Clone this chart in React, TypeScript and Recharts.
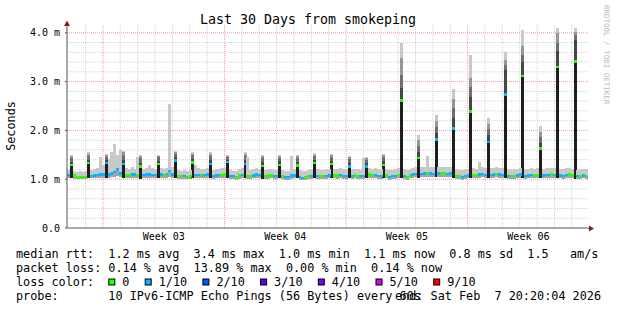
import React from 'react';
import { ComposedChart, Bar, Cell, XAxis, YAxis, CartesianGrid } from 'recharts';

// ---- time bins (4h each, 180 bins over 30 days) ----
const BASE_LO = [
  1.02,1.02,1.01,1.00,1.00,1.00,1.01,1.02,1.02,1.02,
  1.03,1.03,1.02,1.02,1.03,1.04,1.05,1.06,1.04,1.03,
  1.02,1.03,1.03,1.03,1.02,1.01,1.02,1.03,1.03,1.02,
  1.02,1.02,1.03,1.02,1.03,1.04,1.03,1.02,1.00,1.00,
  1.01,1.00,1.01,1.02,1.02,1.02,1.02,1.02,1.03,1.02,
  1.01,1.02,1.02,1.02,1.03,1.02,1.00,1.00,0.99,1.01,
  1.02,1.02,1.01,1.01,1.02,1.03,1.02,1.01,1.00,1.01,
  1.02,1.01,1.00,1.02,1.00,0.99,0.99,1.01,1.02,1.02,
  0.99,0.98,0.99,1.00,1.01,1.02,1.01,1.00,1.00,1.01,
  1.02,1.02,1.02,1.01,1.02,1.01,1.00,1.02,1.01,1.02,
  1.01,1.00,1.00,1.02,1.03,1.02,1.02,1.01,1.01,1.02,
  1.02,0.99,1.00,1.01,1.02,1.03,1.01,0.99,1.02,1.03,
  1.04,1.03,1.04,1.05,1.05,1.05,1.04,1.05,1.05,1.05,
  1.05,1.04,1.05,1.03,1.01,1.00,0.99,1.01,1.02,1.03,
  1.02,1.02,1.03,1.04,1.02,1.02,1.02,1.03,1.04,1.03,
  1.02,1.02,1.01,1.00,1.01,1.02,1.03,1.02,1.01,1.02,
  1.02,1.02,1.02,1.03,1.02,1.02,1.02,1.03,1.02,1.02,
  1.02,1.01,1.02,1.03,1.02,1.01,1.00,1.01,1.02,1.01,
];
const BASE_MED = [
  1.09,1.08,1.08,1.05,1.05,1.04,1.05,1.08,1.07,1.08,
  1.09,1.10,1.10,1.08,1.10,1.12,1.15,1.20,1.12,1.10,
  1.08,1.09,1.10,1.10,1.08,1.07,1.09,1.10,1.10,1.09,
  1.09,1.09,1.10,1.08,1.11,1.17,1.10,1.09,1.06,1.06,
  1.07,1.05,1.07,1.09,1.09,1.09,1.08,1.09,1.10,1.09,
  1.07,1.08,1.09,1.09,1.10,1.08,1.06,1.06,1.05,1.08,
  1.09,1.08,1.07,1.07,1.08,1.10,1.09,1.07,1.06,1.08,
  1.08,1.07,1.06,1.09,1.06,1.04,1.05,1.08,1.08,1.09,
  1.05,1.03,1.04,1.06,1.07,1.08,1.07,1.06,1.06,1.07,
  1.08,1.09,1.08,1.08,1.09,1.07,1.06,1.09,1.07,1.08,
  1.07,1.06,1.06,1.09,1.10,1.08,1.09,1.07,1.07,1.09,
  1.08,1.05,1.06,1.07,1.09,1.10,1.07,1.05,1.08,1.10,
  1.11,1.10,1.11,1.12,1.13,1.12,1.11,1.12,1.12,1.13,
  1.12,1.11,1.12,1.10,1.07,1.06,1.05,1.07,1.08,1.10,
  1.09,1.08,1.10,1.11,1.09,1.08,1.09,1.10,1.11,1.10,
  1.09,1.08,1.07,1.06,1.07,1.08,1.10,1.09,1.07,1.08,
  1.09,1.08,1.09,1.10,1.08,1.09,1.09,1.10,1.09,1.08,
  1.08,1.07,1.09,1.10,1.08,1.07,1.06,1.07,1.08,1.07,
];
const BASE_HI = [
  1.18,1.20,1.17,1.15,1.16,1.15,1.17,1.19,1.18,1.20,
  1.22,1.45,1.30,1.20,1.42,1.55,1.72,1.50,1.60,1.30,
  1.22,1.20,1.25,1.21,1.45,1.22,1.20,1.22,1.30,1.22,
  1.20,1.21,1.22,1.20,1.22,2.55,1.25,1.22,1.18,1.17,
  1.18,1.17,1.19,1.22,1.30,1.22,1.20,1.21,1.22,1.20,
  1.18,1.20,1.21,1.22,1.23,1.20,1.18,1.17,1.16,1.20,
  1.22,1.21,1.45,1.19,1.20,1.22,1.21,1.19,1.18,1.20,
  1.21,1.19,1.18,1.21,1.18,1.17,1.17,1.47,1.20,1.21,
  1.18,1.16,1.17,1.19,1.20,1.21,1.20,1.19,1.19,1.20,
  1.21,1.22,1.21,1.21,1.22,1.20,1.19,1.47,1.20,1.21,
  1.20,1.19,1.43,1.22,1.23,1.21,1.22,1.20,1.20,1.45,
  1.21,1.18,1.19,1.20,1.22,1.23,1.20,1.18,1.21,1.23,
  1.24,1.23,1.25,1.26,1.48,1.25,1.24,1.25,1.25,1.26,
  1.25,1.24,1.25,1.23,1.20,1.19,1.18,1.20,1.21,1.23,
  1.22,1.21,1.36,1.24,1.22,1.21,1.22,1.23,1.24,1.23,
  1.22,1.21,1.20,1.19,1.20,1.21,1.23,1.22,1.20,1.21,
  1.22,1.21,1.22,1.23,1.21,1.22,1.22,1.23,1.22,1.21,
  1.21,1.20,1.22,1.23,1.21,1.20,1.19,1.20,1.21,1.20,
];
// loss bucket index per bin: 0 = 0 lost, 1 = 1/10 lost
const BASE_LOSS = [
  1,1,0,0,0,0,0,1,1,1, 1,1,1,0,1,1,1,1,1,1, 0,0,1,1,0,0,1,1,1,1,
  1,1,1,0,1,1,1,1,0,0, 1,0,0,1,1,1,0,1,1,1, 1,1,1,0,0,1,1,1,0,0,
  1,1,0,0,1,1,1,1,0,0, 0,1,1,0,0,1,1,1,1,0, 1,1,0,0,1,1,1,0,0,1,
  1,1,0,0,1,1,1,1,1,0, 0,1,1,1,0,0,1,1,1,0, 0,1,1,1,0,1,1,0,0,1,
  1,1,1,1,0,1,1,1,1,0, 0,1,1,0,0,0,1,1,1,1, 0,0,1,1,1,0,1,1,0,1,
  1,1,1,0,0,1,1,0,1,1, 1,0,0,1,1,1,1,0,1,1, 1,1,1,0,0,1,1,0,1,0,
];

// ---- daily latency spikes ----
const SPIKE_BIN  = [1,7,13,19,25,31,37,43,49,55,61,67,73,79,85,91,97,103,109,115,121,127,133,139,145,151,157,163,169,175];
const SPIKE_MED  = [1.29,1.33,1.33,1.31,1.26,1.31,1.38,1.34,1.31,1.35,1.31,1.27,1.29,1.28,1.33,1.31,1.26,1.26,1.29,2.61,1.43,1.81,2.04,2.39,1.76,2.74,3.12,1.63,3.30,3.41];
const SPIKE_LOSS = [0,0,1,1,0,0,1,0,1,1,1,0,0,0,0,0,1,1,0,0,0,1,1,0,1,1,0,0,0,0];
const SPIKE_L1   = [1.36,1.40,1.40,1.40,1.34,1.38,1.45,1.42,1.40,1.40,1.40,1.36,1.37,1.36,1.40,1.38,1.34,1.33,1.37,2.87,1.55,1.95,2.25,2.69,1.90,3.24,3.40,1.75,3.62,3.86];
const SPIKE_L2   = [1.44,1.48,1.46,1.50,1.43,1.45,1.52,1.49,1.48,1.45,1.48,1.44,1.44,1.44,1.47,1.46,1.42,1.40,1.45,3.14,1.68,2.08,2.45,2.88,2.02,3.35,3.55,1.86,3.80,3.95];
const SPIKE_L3   = [1.47,1.52,1.49,1.55,1.47,1.48,1.55,1.52,1.52,1.47,1.52,1.47,1.47,1.47,1.50,1.49,1.45,1.43,1.49,3.48,1.80,2.20,2.65,3.07,2.14,3.45,3.72,1.97,4.00,4.02];
const SPIKE_TOP  = [1.50,1.55,1.51,1.58,1.50,1.50,1.57,1.55,1.55,1.49,1.55,1.50,1.50,1.50,1.53,1.52,1.48,1.46,1.52,3.79,1.91,2.32,2.85,3.55,2.25,3.60,4.06,2.09,4.10,4.10];

// ---- axes / grid ----
const Y_TICKS = [0, 1, 2, 3, 4];
const Y_MINOR = [0.2,0.4,0.6,0.8,1.2,1.4,1.6,1.8,2.2,2.4,2.6,2.8,3.2,3.4,3.6,3.8];
const Y_MAJOR = [1, 2, 3, 4];
const X_MINOR = [1.07,3.07,4.07,5.07,6.07,7.07,8.07,10.07,11.07,12.07,13.07,14.07,15.07,17.07,18.07,19.07,20.07,21.07,22.07,24.07,25.07,26.07,27.07,28.07,29.07];
const X_MAJOR = [2.07, 9.07, 16.07, 23.07];
const WEEK_TICKS = [5.57, 12.57, 19.57, 26.57];
const WEEK_LABELS = ['Week 03', 'Week 04', 'Week 05', 'Week 06'];

// ---- legend ----
const RTT_STATS = ['1.2 ms avg', '3.4 ms max', '1.0 ms min', '1.1 ms now', '0.8 ms sd', '1.5   am/s'];
const LOSS_STATS = ['0.14 % avg', '13.89 % max', '0.00 % min', '0.14 % now'];
const LOSS_LABELS = ['0', '1/10', '2/10', '3/10', '4/10', '5/10', '9/10'];
const LOSS_COLORS = ['#26ff00', '#00b8ff', '#0059ff', '#5e00ff', '#7e00ff', '#dd00ff', '#ff0000'];
const PROBE = '10 IPv6-ICMP Echo Pings (56 Bytes) every 60s';
const END_TEXT = 'end: Sat Feb  7 20:20:04 2026';
const TITLE = 'Last 30 Days from smokeping';

const MONO = '"DejaVu Sans Mono", monospace';
const HALF = 0.025;

const rows = BASE_MED.map((m, i) => {
  const k = SPIKE_BIN.indexOf(i);
  const spike = k >= 0;
  const lo = BASE_LO[i];
  const med = spike ? SPIKE_MED[k] : m;
  const loss = spike ? SPIKE_LOSS[k] : BASE_LOSS[i];
  const mTop = med + HALF;
  const l1 = spike ? SPIKE_L1[k] : mTop;
  const l2 = spike ? SPIKE_L2[k] : mTop;
  const l3 = spike ? SPIKE_L3[k] : mTop;
  const top = spike ? SPIKE_TOP[k] : Math.max(BASE_HI[i], mTop);
  return {
    t: (i + 0.5) / 6,
    base: lo,
    lower: Math.max(0, med - HALF - lo),
    mark: 2 * HALF,
    u1: l1 - mTop,
    u2: l2 - l1,
    u3: l3 - l2,
    u4: top - l3,
    spike,
    loss,
  };
});

function Legend() {
  const cw = 7.1;
  const x0 = 16;
  const items: { bx: number; tx: number; label: string; color: string }[] = [];
  let x = x0 + 13 * cw;
  LOSS_LABELS.forEach((label, i) => {
    const bx = x;
    const tx = bx + 14;
    items.push({ bx, tx, label, color: LOSS_COLORS[i] });
    x = tx + label.length * cw + 15.3;
  });
  const ts = { fontFamily: MONO, fontSize: 11.8, fill: '#000', whiteSpace: 'pre' as const };
  return (
    <g>
      <text x={x0} y={258} style={ts}>{'median rtt:  ' + RTT_STATS.join('  ')}</text>
      <text x={x0} y={272} style={ts}>{'packet loss: ' + LOSS_STATS.join('  ')}</text>
      <text x={x0} y={286} style={ts}>{'loss color:'}</text>
      {items.map((it) => (
        <g key={it.label}>
          <rect x={it.bx + 0.5} y={279} width={6} height={6} fill={it.color} stroke="#000" strokeWidth={1} />
          <text x={it.tx} y={286} style={ts}>{it.label}</text>
        </g>
      ))}
      <text x={x0} y={300} style={ts}>{'probe:       ' + PROBE}</text>
      <text x={601} y={300} textAnchor="end" style={ts}>{END_TEXT}</text>
    </g>
  );
}

export default function App() {
  return (
    <div style={{ position: 'absolute', left: 0, top: 0, width: 617, height: 310, background: '#fff' }}>
      <style>{`.recharts-bar-rectangle path { shape-rendering: crispEdges; }`}</style>
      <ComposedChart
        width={617}
        height={310}
        data={rows}
        margin={{ top: 25, right: 29, bottom: 62, left: 0 }}
        barCategoryGap={0}
        barGap={0}
      >
        <CartesianGrid stroke="#d2d2d2" strokeDasharray="1 1" horizontalValues={Y_MINOR} verticalValues={X_MINOR} />
        <CartesianGrid stroke="#ee9f9f" strokeDasharray="1 1" horizontalValues={Y_MAJOR} verticalValues={X_MAJOR} />
        <XAxis
          dataKey="t"
          type="number"
          domain={[0, 30]}
          allowDataOverflow
          ticks={WEEK_TICKS}
          interval={0}
          tickFormatter={(v: number, idx: number) => WEEK_LABELS[idx]}
          tick={{ fontFamily: MONO, fontSize: 10, fill: '#000' }}
          tickLine={false}
          tickSize={0}
          tickMargin={5}
          axisLine={{ stroke: '#555' }}
          height={20}
        />
        <YAxis
          type="number"
          domain={[0, 4.16]}
          allowDataOverflow
          ticks={Y_TICKS}
          interval={0}
          tickFormatter={(v: number) => (v === 0 ? '0.0' : v.toFixed(1) + ' m')}
          tick={{ fontFamily: MONO, fontSize: 10, fill: '#000' }}
          tickLine={{ stroke: '#555' }}
          tickSize={2}
          tickMargin={5}
          axisLine={{ stroke: '#555' }}
          width={67}
        />
        <Bar dataKey="base" stackId="s" fill="transparent" isAnimationActive={false} />
        <Bar dataKey="lower" stackId="s" isAnimationActive={false}>
          {rows.map((r, i) => (
            <Cell key={i} fill={r.spike ? '#1e1e1e' : '#a4a4a4'} />
          ))}
        </Bar>
        <Bar dataKey="mark" stackId="s" isAnimationActive={false}>
          {rows.map((r, i) => (
            <Cell key={i} fill={LOSS_COLORS[r.loss]} />
          ))}
        </Bar>
        <Bar dataKey="u1" stackId="s" fill="#464646" isAnimationActive={false} />
        <Bar dataKey="u2" stackId="s" fill="#6e6e6e" isAnimationActive={false} />
        <Bar dataKey="u3" stackId="s" fill="#969696" isAnimationActive={false} />
        <Bar dataKey="u4" stackId="s" fill="#c8c8c8" isAnimationActive={false} />
      </ComposedChart>
      <svg width={617} height={310} style={{ position: 'absolute', left: 0, top: 0, pointerEvents: 'none' }}>
        <text x={308} y={24} textAnchor="middle" style={{ fontFamily: MONO, fontSize: 13.3, fill: '#000' }}>{TITLE}</text>
        <text
          x={15}
          y={126}
          textAnchor="middle"
          transform="rotate(-90 15 126)"
          style={{ fontFamily: MONO, fontSize: 11.8, fill: '#000' }}
        >
          Seconds
        </text>
        <text
          x={603.5}
          y={5}
          transform="rotate(90 603.5 5)"
          style={{ fontFamily: MONO, fontSize: 7.5, fill: '#bdbdbd' }}
        >
          RRDTOOL / TOBI OETIKER
        </text>
        <line x1={588} y1={228.5} x2={590} y2={228.5} stroke="#555" />
        <polygon points="589,225.5 594,228.5 589,231.5" fill="#8b1c1c" />
        <polygon points="64,26 67,20.5 70,26" fill="#8b1c1c" />
        <Legend />
      </svg>
    </div>
  );
}
